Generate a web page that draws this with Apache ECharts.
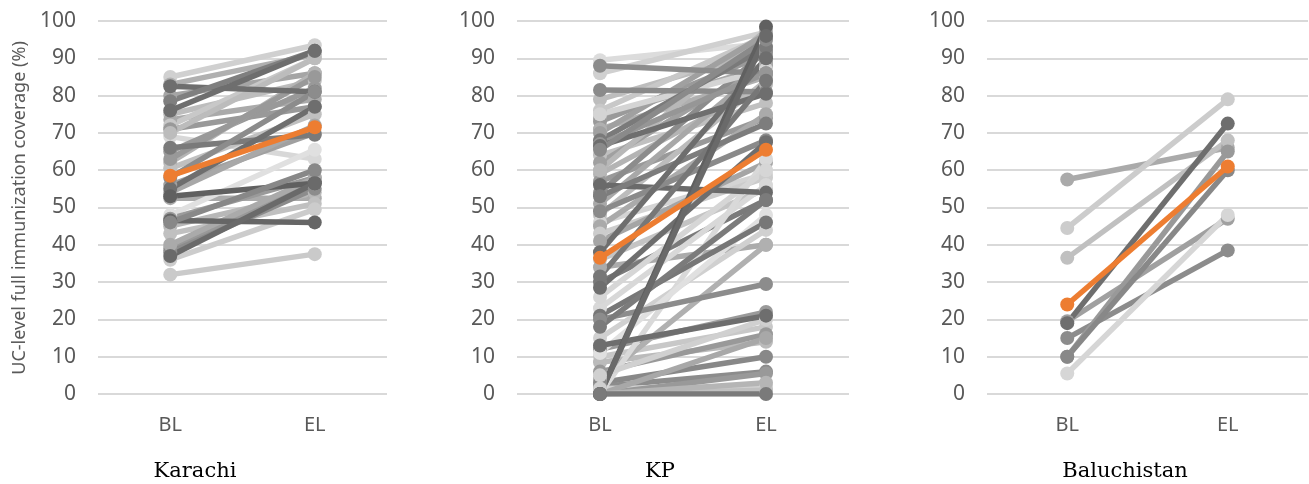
<!DOCTYPE html>
<html>
<head>
<meta charset="utf-8">
<script src="https://cdn.jsdelivr.net/npm/echarts@6/dist/echarts.min.js"></script>
<style>html,body{margin:0;padding:0;background:#fff}#c{width:1309px;height:484px}</style>
</head>
<body>
<div id="c"></div>
<script>
const categories = ['BL', 'EL'];
const panelNames = ['Karachi', 'KP', 'Baluchistan'];
const yTicks = [0, 10, 20, 30, 40, 50, 60, 70, 80, 90, 100];

// Karachi UC pairs
const karachiBL = [85, 83, 80, 75, 73.5, 72, 71, 69, 65, 62, 60.5, 56, 52.5, 48, 47, 45, 43, 39, 38, 36, 32, 54, 63, 70, 40, 82.5, 78.5, 76, 66, 58, 55, 53, 46.5, 46, 37];
const karachiEL = [93.5, 91, 86, 84, 79, 90, 77, 63, 82, 86, 75, 70, 52.5, 65.5, 58, 54, 51, 57, 55, 49.5, 37.5, 72, 85, 90, 58, 81, 92, 92, 69.5, 81, 77, 56.5, 46, 60, 56.5];
const karachiMean = [58.5, 71.5];

// KP UC pairs
const kpBL = [89.5, 86, 79, 76, 74, 73, 71, 64, 62, 59, 57, 54, 51, 48, 46, 45, 43, 41, 36, 34, 30, 23, 15, 12, 10, 8.5, 6, 4, 3, 2, 1.5, 0, 0, 0, 0, 11, 26, 60, 70, 75, 0, 5,
  88, 81.5, 68, 67, 66.5, 65.5, 56, 53, 49, 38, 31.5, 28.5, 21, 20, 18, 13, 0, 0, 0];
const kpEL = [94, 97, 92, 96, 88, 91, 85, 78, 89, 83, 74, 92, 88, 84, 59, 75, 58, 62, 55, 40, 52, 56, 44, 22, 18, 14, 16, 40, 10, 6, 2, 5.5, 1, 15, 63, 48, 60, 97.5, 96.5, 87, 3, 20,
  86, 81, 93, 86, 80.5, 95, 54, 72.5, 68, 90, 84, 67.5, 46, 29.5, 52, 21, 98.5, 96, 0];
const kpMean = [36.5, 65.5];

// Baluchistan UC pairs
const baluBL = [57.5, 44.5, 36.5, 19.5, 15, 10, 10, 5.5, 19];
const baluEL = [66, 79, 68, 47, 38.5, 65, 60, 48, 72.5];
const baluMean = [24, 61];

// line shades (style only)
const karachiShades = ['#d0d0d0', '#b0b0b0', '#a5a5a5', '#bdbdbd', '#aaaaaa', '#c8c8c8', '#999999', '#d8d8d8', '#999999', '#b4b4b4', '#c0c0c0', '#a0a0a0', '#aaaaaa', '#e0e0e0', '#9a9a9a', '#b8b8b8', '#c0c0c0', '#999999', '#8c8c8c', '#cccccc', '#cacaca', '#a8a8a8', '#999999', '#bcbcbc', '#aaaaaa',
  '#6e6e6e', '#7f7f7f', '#6e6e6e', '#7a7a7a', '#8c8c8c', '#6e6e6e', '#606060', '#666666', '#888888', '#6a6a6a'];
const kpShades = ['#dcdcdc', '#d0d0d0', '#bdbdbd', '#c8c8c8', '#a8a8a8', '#9a9a9a', '#b0b0b0', '#c0c0c0', '#a0a0a0', '#b4b4b4', '#999999', '#8c8c8c', '#a8a8a8', '#bcbcbc', '#d4d4d4', '#aaaaaa', '#cccccc', '#a5a5a5', '#c4c4c4', '#ababab', '#7a7a7a', '#d8d8d8', '#d0d0d0', '#9a9a9a', '#c8c8c8', '#bbbbbb', '#999999', '#b0b0b0', '#888888', '#8c8c8c', '#d0d0d0', '#999999', '#c0c0c0', '#a8a8a8', '#d9d9d9', '#e0e0e0', '#d6d6d6', '#b8b8b8', '#a0a0a0', '#d4d4d4', '#b5b5b5', '#d0d0d0',
  '#8c8c8c', '#8a8a8a', '#7a7a7a', '#969696', '#6e6e6e', '#8a8a8a', '#6a6a6a', '#7d7d7d', '#8a8a8a', '#6e6e6e', '#777777', '#6e6e6e', '#777777', '#8c8c8c', '#7b7b7b', '#6e6e6e', '#606060', '#6a6a6a', '#7a7a7a'];
const baluShades = ['#aaaaaa', '#cccccc', '#c0c0c0', '#a0a0a0', '#8c8c8c', '#999999', '#888888', '#d6d6d6', '#6e6e6e'];

const grids = [
  { left: 98, top: 21, width: 289, height: 373 },
  { left: 517, top: 21, width: 332, height: 373 },
  { left: 987, top: 21, width: 321, height: 373 }
];
const titleX = [195, 660, 1125];
const textColor = '#595959';

const panels = [
  { bl: karachiBL, el: karachiEL, mean: karachiMean, shades: karachiShades },
  { bl: kpBL, el: kpEL, mean: kpMean, shades: kpShades },
  { bl: baluBL, el: baluEL, mean: baluMean, shades: baluShades }
];

const series = [];
panels.forEach((p, gi) => {
  p.bl.forEach((v, i) => {
    const col = p.shades[i % p.shades.length];
    series.push({
      type: 'line', xAxisIndex: gi, yAxisIndex: gi,
      data: [v, p.el[i]],
      symbol: 'circle', symbolSize: 14,
      lineStyle: { color: col, width: 5.5 },
      itemStyle: { color: col },
      silent: true, animation: false
    });
  });
  series.push({
    type: 'line', xAxisIndex: gi, yAxisIndex: gi,
    data: p.mean,
    symbol: 'circle', symbolSize: 14,
    lineStyle: { color: '#ED7D31', width: 5.5 },
    itemStyle: { color: '#ED7D31' },
    z: 5, silent: true, animation: false
  });
});

const chart = echarts.init(document.getElementById('c'), null, { renderer: 'canvas' });
chart.setOption({
  animation: false,
  grid: grids,
  xAxis: grids.map((g, i) => ({
    type: 'category', gridIndex: i, data: categories, boundaryGap: true,
    axisLine: { show: false }, axisTick: { show: false },
    axisLabel: { color: textColor, fontSize: 20, fontFamily: 'Noto Sans', margin: 21 }
  })),
  yAxis: grids.map((g, i) => ({
    type: 'value', gridIndex: i, min: yTicks[0], max: yTicks[yTicks.length - 1], interval: 10,
    axisLine: { show: false }, axisTick: { show: false },
    axisLabel: { color: textColor, fontSize: 21, fontFamily: 'Noto Sans', margin: 22 },
    splitLine: { lineStyle: { color: '#d9d9d9', width: 2 } }
  })),
  graphic: [
    {
      type: 'text', x: 20, y: 208, rotation: Math.PI / 2,
      style: { text: 'UC-level full immunization coverage (%)', fill: textColor, font: '18px "Noto Sans"', textAlign: 'center', textVerticalAlign: 'middle' }
    }
  ].concat(panelNames.map((n, i) => ({
    type: 'text', x: titleX[i], y: 472,
    style: { text: n, fill: '#000', font: '21px "DejaVu Serif"', textAlign: 'center', textVerticalAlign: 'middle' }
  }))),
  series: series
});
</script>
</body>
</html>
